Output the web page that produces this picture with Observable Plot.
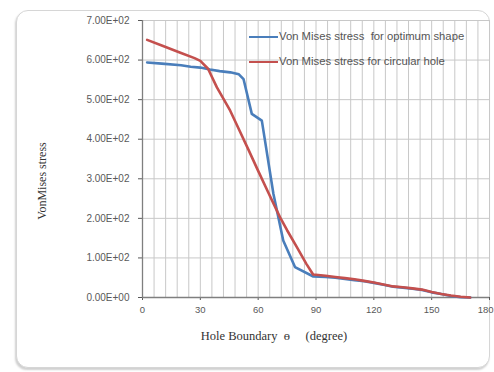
<!DOCTYPE html>
<html>
<head>
<meta charset="utf-8">
<script src="https://cdn.jsdelivr.net/npm/d3@7"></script>
<script src="https://cdn.jsdelivr.net/npm/@observablehq/plot@0.6"></script>
<style>
  html, body { margin: 0; padding: 0; background: #fff; }
  #wrap { position: relative; width: 494px; height: 372px; overflow: hidden; }
  #card { position: absolute; left: 16px; top: 10px; width: 472px; height: 356px;
          border: 1.5px solid #d6d6d6; border-radius: 12px; box-shadow: -1px 2px 2px #d0d0d0; background: #fff; }
  #chart { position: absolute; left: 0; top: 0; }
  #legend { position: absolute; left: 249px; top: 24px; font-family: "Liberation Sans", Arial, sans-serif;
            font-size: 11.3px; color: #555; line-height: 25px; white-space: nowrap; }
  #legend .sw { display: inline-block; width: 29px; height: 2px; vertical-align: middle; margin-right: 1px; }
  #ytitle { position: absolute; left: 42px; top: 181px; transform: translate(-50%, -50%) rotate(-90deg);
            font-family: "Liberation Serif", "Times New Roman", serif; font-size: 12px; color: #333; white-space: nowrap; }
</style>
</head>
<body>
<div id="wrap">
  <div id="card"></div>
  <div id="chart"></div>
  <div id="legend"></div>
  <div id="ytitle"></div>
</div>
<script>
// Series: Von Mises stress for optimum shape (blue)
const optDeg = [2.4, 10, 20, 25, 30, 35, 40, 45.5, 50, 52.4, 56.7, 61.9, 67.9, 73, 79.1, 88.6, 95, 100, 105, 110, 115, 120, 125, 130, 135, 140, 145, 150, 155, 160, 165, 170];
const optVal = [594, 591, 587, 583, 581, 576, 572, 569, 564, 552, 464, 447, 262, 144, 77, 53, 52, 50, 47, 44, 41, 37, 32, 27, 25, 22, 19, 13, 9, 4, 1, 0];
// Series: Von Mises stress for circular hole (red)
const circDeg = [2.4, 10, 20, 27, 30, 34, 38.6, 45.5, 50, 55, 60, 65, 71.3, 75, 80, 85, 88.5, 95, 100, 105, 110, 115, 120, 125, 130, 135, 140, 145, 150, 155, 160, 165, 170];
const circVal = [651, 637, 618, 605, 598, 578, 531, 472, 425, 373, 320, 268, 203, 170, 128, 85, 58, 55, 52, 49, 46, 42, 38, 33, 28, 26, 23, 20, 14, 9, 5, 2, 0];

const seriesNames = ["Von Mises stress\u00a0 for optimum shape", "Von Mises stress for circular hole"];
const seriesColors = ["#4a7ebb", "#c4504e"];

const xTicks = [0, 30, 60, 90, 120, 150, 180];
const xTickLabels = ["0", "30", "60", "90", "120", "150", "180"];
const yTicks = [0, 100, 200, 300, 400, 500, 600, 700];
const yTickLabels = ["0.00E+00", "1.00E+02", "2.00E+02", "3.00E+02", "4.00E+02", "5.00E+02", "6.00E+02", "7.00E+02"];
const xGrid = d3.range(0, 181, 6);

const xTitle = "Hole Boundary\u00a0 \u0275\u00a0\u00a0\u00a0\u00a0 (degree)";
const yTitle = "VonMises stress";

const optData = optDeg.map((d, i) => ({deg: d, val: optVal[i]}));
const circData = circDeg.map((d, i) => ({deg: d, val: circVal[i]}));
const xLabelData = xTicks.map((d, i) => ({deg: d, label: xTickLabels[i]}));
const lastIdx = xLabelData.length - 1;

const plot = Plot.plot({
  width: 494,
  height: 372,
  marginLeft: 142,
  marginRight: 5,
  marginTop: 20,
  marginBottom: 75,
  style: {background: "transparent", fontFamily: "Liberation Sans, Arial, sans-serif", fontSize: "10px", color: "#595959"},
  x: {domain: [0, 180], ticks: xTicks, tickFormat: () => "", tickSize: 3, label: null},
  y: {domain: [0, 700], ticks: yTicks, tickFormat: d => yTickLabels[yTicks.indexOf(d)], tickSize: 4, tickPadding: 9, label: null},
  marks: [
    Plot.ruleX(xGrid, {stroke: "#c8c8c8", strokeWidth: 1, strokeOpacity: 1}),
    Plot.ruleY(yTicks, {stroke: "#c8c8c8", strokeWidth: 1, strokeOpacity: 1}),
    Plot.ruleX([0], {stroke: "#7f7f7f", strokeWidth: 1.3}),
    Plot.ruleY([0], {stroke: "#7f7f7f", strokeWidth: 1.3}),
    Plot.line(optData, {x: "deg", y: "val", stroke: seriesColors[0], strokeWidth: 2.6}),
    Plot.line(circData, {x: "deg", y: "val", stroke: seriesColors[1], strokeWidth: 2.6}),
    Plot.text(xLabelData.slice(0, lastIdx), {x: "deg", text: "label", frameAnchor: "bottom", dy: 15, fontSize: 9.5, fill: "#595959"}),
    Plot.text(xLabelData.slice(lastIdx), {x: "deg", text: "label", frameAnchor: "bottom", dy: 15, dx: 4, textAnchor: "end", fontSize: 9.5, fill: "#595959"}),
    Plot.text([xTitle], {frameAnchor: "bottom", dx: -42, dy: 42, fontFamily: "Liberation Serif, Times New Roman, serif", fontSize: 12.5, fill: "#333"})
  ]
});
document.getElementById("chart").appendChild(plot);
document.getElementById("ytitle").textContent = yTitle;

const legend = document.getElementById("legend");
seriesNames.forEach((name, i) => {
  const row = document.createElement("div");
  const sw = document.createElement("span");
  sw.className = "sw";
  sw.style.background = seriesColors[i];
  row.appendChild(sw);
  row.appendChild(document.createTextNode(name));
  legend.appendChild(row);
});
</script>
</body>
</html>
